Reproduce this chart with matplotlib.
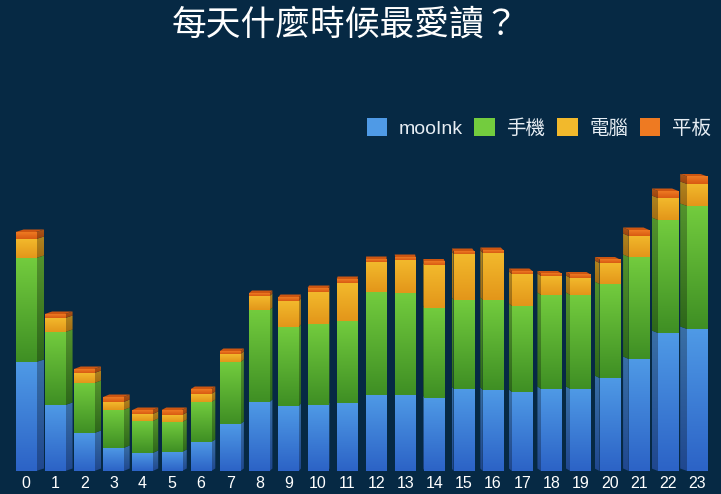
import numpy as np
import matplotlib.pyplot as plt
from matplotlib.patches import Polygon, Patch
from matplotlib.colors import to_rgb

plt.rcParams['font.family'] = ['Noto Sans CJK TC', 'DejaVu Sans']

hours = [str(h) for h in range(24)]
series_names = ['mooInk', '手機', '電腦', '平板']

# (relative heights)
mooink = [109, 66, 38, 23, 18, 19, 29, 47, 69, 65, 66, 68,
          76, 76, 73, 82, 81, 79, 82, 82, 93, 112, 138, 142]
phone = [104, 73, 50, 38, 32, 30, 40, 62, 92, 79, 81, 82,
         103, 102, 90, 89, 90, 86, 94, 94, 94, 102, 113, 123]
computer = [19, 14, 10, 8, 7, 7, 8, 8, 14, 26, 32, 38,
            30, 33, 43, 46, 47, 32, 19, 17, 21, 21, 22, 22]
tablet = [7, 4, 4, 5, 4, 5, 5, 3, 3, 4, 4, 4,
          3, 3, 3.5, 3, 3, 3, 2.5, 3.5, 3.5, 6, 7, 7.5]

series = [mooink, phone, computer, tablet]
grad_top = ['#4f9ae6', '#73cc3e', '#f2b92c', '#ee7a22']
grad_bot = ['#2c63c6', '#3f8f24', '#e3961a', '#d85a12']

BG = '#062944'
W, H = 721, 494
step = 29.2          # px between bars
x0_px = 25.8         # centre of first bar
base_px = 471
top_px = 100
latin = ['Liberation Sans', 'Noto Sans CJK TC']


def shade(c, f):
    return tuple(min(1, v * f) for v in to_rgb(c))


def gradient_fill(ax, patch, ext, c1, c2, z):
    t = np.linspace(0, 1, 64)[:, None, None]
    a = np.array(to_rgb(c1))[None, None, :]
    b = np.array(to_rgb(c2))[None, None, :]
    img = a * (1 - t) + b * t
    im = ax.imshow(img, extent=ext, aspect='auto', origin='upper',
                   zorder=z, interpolation='bilinear')
    im.set_clip_path(patch)


fig = plt.figure(figsize=(W / 100, H / 100), dpi=100, facecolor=BG)
ax = fig.add_axes([0, (H - base_px) / H, 1, (base_px - top_px) / H])
ax.set_facecolor(BG)

x = np.arange(len(hours))
width = 0.7
# perspective: side face on the right for early hours, on the left for late
dx = (8 - 15 * x / 23) / step
dy = 2.5

bottom = np.zeros(len(hours))
for k, vals in enumerate(series):
    vals = np.array(vals, dtype=float)
    rects = ax.bar(x, vals, width, bottom=bottom, color='none',
                   linewidth=0, zorder=3)
    for i, r in enumerate(rects):
        xl, xr = r.get_x(), r.get_x() + r.get_width()
        yb, yt = bottom[i], bottom[i] + vals[i]
        gradient_fill(ax, r, (xl, xr, yb, yt), grad_top[k], grad_bot[k], 3)
        # side face
        xs = xr if dx[i] > 0 else xl
        side = Polygon([(xs, yb), (xs + dx[i], yb + dy),
                        (xs + dx[i], yt + dy), (xs, yt)],
                       closed=True, facecolor='none', edgecolor='none')
        ax.add_patch(side)
        gradient_fill(ax, side,
                      (min(xs, xs + dx[i]), max(xs, xs + dx[i]), yb, yt + dy),
                      shade(grad_top[k], 0.72), shade(grad_bot[k], 0.72), 2)
    bottom += vals

# top faces
for i in range(len(hours)):
    xl, xr = x[i] - width / 2, x[i] + width / 2
    yt = bottom[i]
    ax.add_patch(Polygon([(xl, yt), (xr, yt), (xr + dx[i], yt + dy),
                          (xl + dx[i], yt + dy)], closed=True,
                         facecolor=shade(grad_bot[3], 0.95), edgecolor='none',
                         zorder=2.5))

ax.set_xlim(-x0_px / step, (W - x0_px) / step)
ax.set_ylim(0, base_px - top_px)
ax.set_xticks(x)
ax.set_xticklabels(hours, color='white', fontsize=11.5, family=latin)
ax.tick_params(axis='x', length=0, pad=3.5)
ax.set_yticks([])
for s in ax.spines.values():
    s.set_visible(False)

handles = [Patch(facecolor=c, edgecolor='none') for c in grad_top]
leg = ax.legend(handles, series_names, ncol=4, loc='center right',
                bbox_to_anchor=(711 / W, 1 - 128 / H),
                bbox_transform=fig.transFigure, frameon=False,
                prop={'family': latin, 'size': 14},
                handlelength=1.05, handleheight=1.05,
                handletextpad=0.6, columnspacing=0.6,
                borderpad=0, borderaxespad=0)
for t in leg.get_texts():
    t.set_color('#e6edf3')

fig.text(345 / W, 1 - 25 / H, '每天什麼時候最愛讀？', color='white',
         fontsize=25, ha='center', va='center')

fig.savefig('out.png', dpi=100, facecolor=BG)
